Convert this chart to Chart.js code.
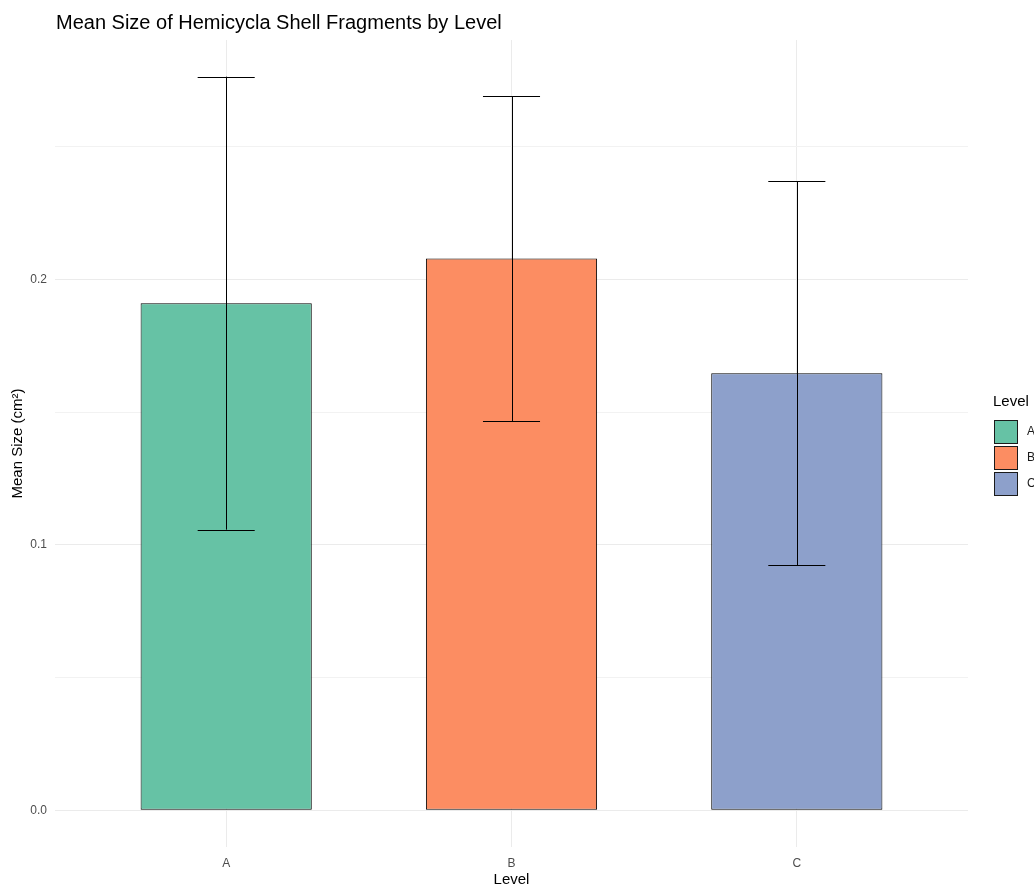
<!DOCTYPE html>
<html>
<head>
<meta charset="utf-8">
<style>
  html, body { margin: 0; padding: 0; background: #ffffff; }
  canvas { display: block; }
</style>
<script src="https://cdn.jsdelivr.net/npm/chart.js@4/dist/chart.umd.min.js"></script>
</head>
<body>
<canvas id="chart" width="1034" height="889"></canvas>
<script>
// Shell fragment sizes per excavation level
const levels = ['A', 'B', 'C'];
const meanSize = [0.1910, 0.2078, 0.1646];
const sdSize = [0.0853, 0.0612, 0.0723];
const levelColors = ['#66c2a5', '#fc8d62', '#8da0cb'];
const yTicks = [0, 0.05, 0.1, 0.15, 0.2, 0.25];

const FONT = '"Liberation Sans", Arial, sans-serif';

// ggplot-style expansion of the value range (5% each side)
const yTop = Math.max(...meanSize.map((m, i) => m + sdSize[i]));
const yPad = yTop * 0.05;

// Error bars, plot title, axis titles and legend
const extras = {
  id: 'extras',
  afterDatasetsDraw(chart) {
    const { ctx, scales: { x, y } } = chart;
    ctx.save();
    ctx.strokeStyle = '#000000';
    ctx.lineWidth = 1;
    levels.forEach((lv, i) => {
      const cx = x.getPixelForValue(i + 1);
      const hi = y.getPixelForValue(meanSize[i] + sdSize[i]);
      const lo = y.getPixelForValue(meanSize[i] - sdSize[i]);
      const capL = x.getPixelForValue(i + 1 - 0.1);
      const capR = x.getPixelForValue(i + 1 + 0.1);
      ctx.beginPath();
      ctx.moveTo(Math.round(cx) + 0.5, hi);
      ctx.lineTo(Math.round(cx) + 0.5, lo);
      ctx.moveTo(capL, Math.round(hi) + 0.5);
      ctx.lineTo(capR, Math.round(hi) + 0.5);
      ctx.moveTo(capL, Math.round(lo) + 0.5);
      ctx.lineTo(capR, Math.round(lo) + 0.5);
      ctx.stroke();
    });
    ctx.restore();
  },
  afterDraw(chart) {
    const { ctx, chartArea: area } = chart;
    ctx.save();
    // plot title
    ctx.fillStyle = '#000000';
    ctx.font = '20px ' + FONT;
    ctx.textAlign = 'left';
    ctx.textBaseline = 'middle';
    ctx.fillText('Mean Size of Hemicycla Shell Fragments by Level', 56, 23);

    // axis titles
    ctx.font = '15px ' + FONT;
    ctx.textAlign = 'center';
    ctx.fillText('Level', (area.left + area.right) / 2, 880);
    ctx.save();
    ctx.translate(18, (area.top + area.bottom) / 2);
    ctx.rotate(-Math.PI / 2);
    ctx.fillText('Mean Size (cm²)', 0, 0);
    ctx.restore();

    // legend
    ctx.textAlign = 'left';
    ctx.fillText('Level', 993, 402);
    ctx.font = '12px ' + FONT;
    levels.forEach((lv, i) => {
      const top = 420 + i * 26;
      ctx.fillStyle = levelColors[i];
      ctx.fillRect(994, top, 24, 24);
      ctx.strokeStyle = '#1a1a1a';
      ctx.lineWidth = 1;
      ctx.strokeRect(994.5, top + 0.5, 23, 23);
      ctx.fillStyle = '#1a1a1a';
      ctx.fillText(lv, 1027, top + 12);
    });
    ctx.restore();
  }
};

new Chart(document.getElementById('chart'), {
  type: 'bar',
  data: {
    datasets: [{
      label: 'Level',
      data: levels.map((lv, i) => ({ x: i + 1, y: meanSize[i] })),
      backgroundColor: levelColors,
      borderColor: '#000000',
      borderWidth: 1,
      borderSkipped: false,
      categoryPercentage: 1.0,
      barPercentage: 0.6
    }]
  },
  options: {
    responsive: false,
    animation: false,
    devicePixelRatio: 1,
    layout: { padding: { left: 0, right: 66, top: 40, bottom: 0 } },
    plugins: {
      legend: { display: false },
      title: { display: false },
      tooltip: { enabled: false }
    },
    scales: {
      x: {
        type: 'linear',
        offset: false,
        min: 0.4,
        max: levels.length + 0.6,
        afterBuildTicks(scale) {
          scale.ticks = levels.map((lv, i) => ({ value: i + 1 }));
        },
        afterFit(scale) { scale.height = 42; },
        border: { display: false },
        grid: { color: '#ebebeb', lineWidth: 1, drawTicks: false, offset: false },
        ticks: {
          padding: 9,
          color: '#4d4d4d',
          font: { family: FONT, size: 12 },
          maxRotation: 0,
          callback: (v) => levels[Math.round(v) - 1] ?? ''
        }
      },
      y: {
        type: 'linear',
        min: -yPad,
        max: yTop + yPad,
        afterBuildTicks(scale) {
          scale.ticks = yTicks.map(v => ({ value: v }));
        },
        afterFit(scale) { scale.width = 55; },
        border: { display: false },
        grid: {
          drawTicks: false,
          color: (c) => (Math.round(c.tick.value * 100) % 10 === 0 ? '#ebebeb' : '#f2f2f2'),
          lineWidth: 1
        },
        ticks: {
          padding: 8,
          color: '#4d4d4d',
          font: { family: FONT, size: 12 },
          callback: (v) => (Math.round(v * 100) % 10 === 0 ? v.toFixed(1) : '')
        }
      }
    }
  },
  plugins: [extras]
});
</script>
</body>
</html>
